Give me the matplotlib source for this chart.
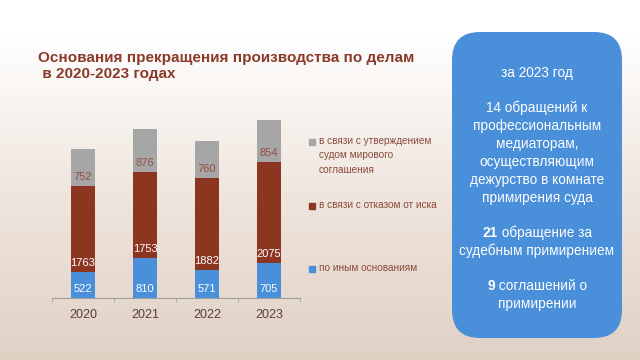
import numpy as np
import matplotlib
matplotlib.use("Agg")
import matplotlib.pyplot as plt
from matplotlib.patches import FancyBboxPatch, Rectangle
from matplotlib.colors import LinearSegmentedColormap

years = ["2020", "2021", "2022", "2023"]
other = [522, 810, 571, 705]          # по иным основаниям
refusal = [1763, 1753, 1882, 2075]    # в связи с отказом от иска
settlement = [752, 876, 760, 854]     # в связи с утверждением мирового соглашения

legend_labels = ["в связи с утверждением\nсудом мирового\nсоглашения",
                 "в связи с отказом от иска",
                 "по иным основаниям"]

title = "Основания прекращения производства по делам\n в 2020-2023 годах"

box_lines = [("", "за 2023 год"), None,
             ("", "14 обращений к"), ("", "профессиональным"), ("", "медиаторам,"),
             ("", "осуществляющим"), ("", "дежурство в комнате"), ("", "примирения суда"), None,
             ("21", " обращение за"), ("", "судебным примирением"), None,
             ("9", " соглашений о"), ("", "примирении")]

BLUE = "#4a8fd9"
RED = "#8c3521"
GRAY = "#a6a6a6"
BROWN = "#8b3a2a"
TXT = "#5a3e34"

plt.rcParams["font.family"] = ["Liberation Sans", "DejaVu Sans"]

fig = plt.figure(figsize=(6.4, 3.6), dpi=100)

# background gradient + overlay in pixel coordinates
bg = fig.add_axes([0, 0, 1, 1], zorder=0)
bg.set_xlim(0, 640)
bg.set_ylim(360, 0)
bg.axis("off")
grad = np.linspace(0, 1, 360)
grad = np.clip((grad - 0.1) / 0.9, 0, 1)[:, None]
cmap = LinearSegmentedColormap.from_list("bgc", ["#ffffff", "#efe5dd", "#e0d1c5"])
bg.imshow(grad, extent=[0, 640, 360, 0], cmap=cmap, aspect="auto", vmin=0, vmax=1)

bg.text(38, 66, title, fontsize=11, fontweight="bold", color=BROWN,
        va="center", ha="left", linespacing=1.2)

# legend
leg_y = [142, 206, 269]
for c, lab, y in zip([GRAY, RED, BLUE], legend_labels, leg_y):
    bg.add_patch(Rectangle((309, y - 3), 6, 6, color=c))
    bg.text(319, y - 6, lab, fontsize=7.2, color="#8b4a3a", va="top", ha="left",
            linespacing=1.55)

# info box
bg.add_patch(FancyBboxPatch((452, 32), 170, 306,
                            boxstyle="round,pad=0,rounding_size=28",
                            facecolor=BLUE, edgecolor="none"))
fig.canvas.draw()
rend = fig.canvas.get_renderer()
y = 73
cx = 537
for item in box_lines:
    if item is None:
        y += 17
        continue
    b, n = item
    tb = bg.text(0, y, b, fontsize=9.8, fontweight="bold", color="white",
                 va="center", ha="left")
    tn = bg.text(0, y, n, fontsize=9.8, color="white", va="center", ha="left")
    wb = tb.get_window_extent(rend).width if b else 0
    wn = tn.get_window_extent(rend).width
    x0 = cx - (wb + wn) / 2
    tb.set_x(x0)
    tn.set_x(x0 + wb)
    y += 18

# stacked bars
ax = fig.add_axes([52 / 640, 62 / 360, 248 / 640, 196 / 360], zorder=1)
ax.patch.set_alpha(0)
x = np.arange(len(years))
w = 0.4
b1 = ax.bar(x, other, w, color=BLUE)
b2 = ax.bar(x, refusal, w, bottom=other, color=RED)
bot3 = np.array(other) + np.array(refusal)
b3 = ax.bar(x, settlement, w, bottom=bot3, color=GRAY)

for bars, vals, col in [(b1, other, "white"), (b2, refusal, "white"), (b3, settlement, "#94503f")]:
    for r, v in zip(bars, vals):
        ax.annotate(str(v), (r.get_x() + r.get_width() / 2, r.get_y()),
                    xytext=(0, 6.5), textcoords="offset points",
                    ha="center", va="center", fontsize=8, color=col)

ax.set_xlim(-0.5, len(years) - 0.5)
ax.set_ylim(0, 4000)
ax.set_xticks(x)
ax.set_xticklabels(years, fontsize=9, color=TXT)
ax.set_xticks(np.arange(-0.5, len(years)), minor=True)
ax.tick_params(axis="x", which="major", length=0, pad=8)
ax.tick_params(axis="x", which="minor", length=3, color="#a0a0a0")
ax.set_yticks([])
for s in ["top", "right", "left"]:
    ax.spines[s].set_visible(False)
ax.spines["bottom"].set_color("#a0a0a0")

fig.savefig("out.png", dpi=100)
